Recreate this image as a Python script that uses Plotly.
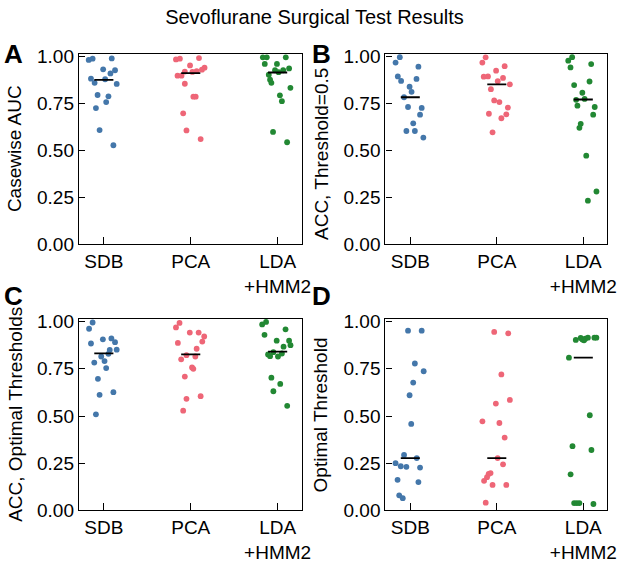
import plotly.graph_objects as go
import numpy as np

categories = ["SDB", "PCA", "LDA<br>+HMM2"]
colors = ["#4477AA", "#EE6677", "#228833"]
ytick_vals = [0.0, 0.25, 0.5, 0.75, 1.0]
ytick_text = ["0.00", "0.25", "0.50", "0.75", "1.00"]

# Panel A: Casewise AUC
a_sdb = [0.983, 0.990, 0.991, 0.933, 0.928, 0.911, 0.883, 0.880, 0.861, 0.855, 0.796, 0.789, 0.758, 0.726, 0.609, 0.528]
a_sdb_j = [-0.174, -0.129, 0.091, -0.008, 0.129, 0.076, -0.148, 0.015, -0.106, 0.148, -0.072, 0.053, 0.027, -0.091, -0.049, 0.110]
a_pca = [0.986, 0.990, 0.993, 0.954, 0.942, 0.931, 0.921, 0.923, 0.919, 0.899, 0.899, 0.856, 0.787, 0.787, 0.698, 0.607, 0.561]
a_pca_j = [-0.170, -0.125, 0.095, -0.008, 0.159, 0.129, -0.068, 0.068, 0.019, -0.152, -0.106, -0.068, 0.030, 0.057, -0.087, -0.049, 0.114]
a_lda = [0.997, 0.997, 0.997, 0.962, 0.938, 0.962, 0.928, 0.928, 0.918, 0.904, 0.878, 0.861, 0.834, 0.794, 0.763, 0.599, 0.544]
a_lda_j = [-0.170, -0.125, 0.094, -0.008, 0.132, -0.148, -0.030, 0.064, 0.011, -0.102, -0.087, -0.072, 0.147, 0.026, 0.049, -0.053, 0.109]
a_medians = [0.877, 0.913, 0.916]

# Panel B: ACC, Threshold=0.5
b_sdb = [0.998, 0.969, 0.947, 0.895, 0.882, 0.871, 0.840, 0.813, 0.784, 0.732, 0.727, 0.691, 0.645, 0.604, 0.604, 0.569]
b_sdb_j = [-0.121, -0.170, 0.094, -0.144, 0.072, -0.106, -0.008, 0.015, -0.072, -0.026, 0.132, 0.113, 0.034, -0.045, 0.053, 0.151]
b_pca = [0.997, 0.969, 0.950, 0.926, 0.894, 0.895, 0.887, 0.870, 0.853, 0.827, 0.767, 0.758, 0.729, 0.696, 0.693, 0.672, 0.597]
b_pca_j = [-0.129, -0.167, 0.091, -0.008, -0.151, -0.102, 0.072, 0.011, 0.151, -0.068, -0.030, 0.030, 0.128, -0.091, 0.110, 0.053, -0.049]
b_lda = [0.998, 0.979, 0.943, 0.961, 0.868, 0.849, 0.808, 0.770, 0.775, 0.739, 0.732, 0.691, 0.642, 0.621, 0.472, 0.281, 0.232]
b_lda_j = [-0.129, -0.174, -0.148, 0.091, 0.072, -0.106, -0.011, -0.083, 0.015, -0.068, 0.132, 0.114, -0.030, -0.045, 0.034, 0.152, 0.053]
b_medians = [0.784, 0.853, 0.772]

# Panel C: ACC, Optimal Thresholds
c_sdb = [0.995, 0.962, 0.884, 0.906, 0.911, 0.891, 0.851, 0.850, 0.829, 0.815, 0.791, 0.783, 0.754, 0.697, 0.612, 0.626, 0.509]
c_sdb_j = [-0.129, -0.170, -0.148, -0.011, 0.087, 0.129, 0.148, 0.068, 0.053, -0.030, 0.008, -0.110, 0.027, -0.068, -0.049, 0.110, -0.091]
c_pca = [0.993, 0.969, 0.942, 0.942, 0.921, 0.894, 0.887, 0.856, 0.815, 0.822, 0.800, 0.757, 0.750, 0.709, 0.591, 0.605, 0.528]
c_pca_j = [-0.129, -0.170, -0.011, 0.091, 0.155, 0.133, -0.148, 0.068, 0.053, -0.049, -0.110, 0.015, 0.030, -0.068, -0.049, 0.114, -0.087]
c_lda = [0.998, 0.985, 0.930, 0.959, 0.899, 0.899, 0.875, 0.867, 0.838, 0.826, 0.817, 0.815, 0.831, 0.703, 0.670, 0.631, 0.554]
c_lda_j = [-0.133, -0.178, -0.151, 0.091, -0.011, 0.132, 0.148, 0.068, -0.049, -0.110, -0.087, 0.004, 0.049, -0.072, 0.030, -0.049, 0.110]
c_medians = [0.832, 0.826, 0.841]

# Panel D: Optimal Threshold
d_sdb = [0.952, 0.952, 0.778, 0.737, 0.677, 0.610, 0.458, 0.294, 0.277, 0.250, 0.234, 0.231, 0.227, 0.162, 0.150, 0.080, 0.065]
d_sdb_j = [-0.026, 0.132, 0.053, 0.155, 0.034, -0.008, 0.011, -0.072, 0.075, -0.170, -0.110, -0.045, 0.113, -0.147, 0.094, -0.128, -0.087]
d_pca = [0.945, 0.938, 0.720, 0.585, 0.566, 0.472, 0.463, 0.386, 0.277, 0.244, 0.198, 0.193, 0.176, 0.157, 0.135, 0.135, 0.041]
d_pca_j = [-0.030, 0.132, 0.053, 0.151, -0.011, -0.166, 0.030, 0.091, 0.010, 0.072, -0.072, -0.094, -0.113, -0.147, -0.049, 0.110, -0.128]
d_lda = [0.809, 0.903, 0.913, 0.905, 0.901, 0.909, 0.915, 0.915, 0.915, 0.504, 0.340, 0.320, 0.191, 0.039, 0.039, 0.039, 0.034]
d_lda_j = [-0.166, -0.087, -0.030, -0.010, 0.008, 0.023, 0.053, 0.128, 0.151, 0.075, -0.125, 0.094, -0.147, -0.106, -0.075, -0.045, 0.117]
d_medians = [0.277, 0.277, 0.809]

panel_letters = ["A", "B", "C", "D"]
ylabels = ["Casewise AUC", "ACC, Threshold=0.5", "ACC, Optimal Thresholds", "Optimal Threshold"]

panels = [
    ([a_sdb, a_pca, a_lda], [a_sdb_j, a_pca_j, a_lda_j], a_medians),
    ([b_sdb, b_pca, b_lda], [b_sdb_j, b_pca_j, b_lda_j], b_medians),
    ([c_sdb, c_pca, c_lda], [c_sdb_j, c_pca_j, c_lda_j], c_medians),
    ([d_sdb, d_pca, d_lda], [d_sdb_j, d_pca_j, d_lda_j], d_medians),
]

W, H = 629, 565
FONT = "Liberation Sans, Arial, sans-serif"

# layout geometry (pixels)
xdoms_px = [(80, 306), (391, 616)]
ydoms_px = [(48.5, 245), (322, 520)]
letter_pos = [(13.5, 49), (326, 49), (13.5, 299), (326, 299)]
ylabel_pos = [(15.5, 146.5), (325.5, 152), (15.5, 421), (325.5, 421)]

fig = go.Figure()
annotations = []
half = 0.11

for p, (vals, jits, meds) in enumerate(panels):
    row, col = divmod(p, 2)
    ax = "" if p == 0 else str(p + 1)
    xa, ya = "x" + ax, "y" + ax
    for k in range(3):
        xs = [k + j for j in jits[k]]
        fig.add_trace(go.Scatter(
            x=xs, y=vals[k], mode="markers", xaxis=xa, yaxis=ya,
            marker=dict(size=5.8, color=colors[k], line=dict(width=0)),
            showlegend=False, hoverinfo="y"))
    for k in range(3):
        fig.add_trace(go.Scatter(
            x=[k - half, k + half], y=[meds[k], meds[k]], mode="lines",
            xaxis=xa, yaxis=ya, line=dict(color="black", width=1.8),
            showlegend=False, hoverinfo="skip"))
    x0, x1 = xdoms_px[col]
    y0, y1 = ydoms_px[row]
    xdom = [x0 / W, x1 / W]
    ydom = [1 - y1 / H, 1 - y0 / H]
    common = dict(showline=True, linecolor="black", linewidth=1.2, mirror=True,
                  ticks="inside", tickcolor="black", tickwidth=1.2,
                  showgrid=False, zeroline=False,
                  tickfont=dict(family=FONT, size=19, color="black"))
    fig.layout["xaxis" + ax] = dict(domain=xdom, range=[-0.2875, 2.276],
                                    tickmode="array", tickvals=[0, 1, 2], ticktext=categories,
                                    anchor=ya, ticklen=7, **common)
    fig.layout["yaxis" + ax] = dict(domain=ydom, range=[0, 1.015],
                                    tickmode="array", tickvals=ytick_vals, ticktext=ytick_text,
                                    anchor=xa, ticklen=6, **common)
    # panel letter
    lx, ly = letter_pos[p]
    annotations.append(dict(text="<b>" + panel_letters[p] + "</b>", x=lx / W, y=1 - ly / H,
                             xref="paper", yref="paper", showarrow=False,
                             xanchor="center", yanchor="middle",
                             font=dict(family=FONT, size=26, color="black")))
    # y label
    tx, ty = ylabel_pos[p]
    annotations.append(dict(text=ylabels[p], x=tx / W, y=1 - ty / H,
                            xref="paper", yref="paper", showarrow=False, textangle=-90,
                            xanchor="center", yanchor="middle",
                            font=dict(family=FONT, size=19, color="black")))

fig.update_layout(
    width=W, height=H,
    margin=dict(l=0, r=0, t=0, b=0),
    paper_bgcolor="white", plot_bgcolor="white",
    title=dict(text="Sevoflurane Surgical Test Results", x=0.5, xanchor="center",
               y=1 - 17 / H, yanchor="middle", yref="container",
               font=dict(family=FONT, size=20, color="black")),
    annotations=annotations,
)

fig.write_html("out.html",
               config={"displayModeBar": False},
               post_script="document.body.style.margin='0';document.body.style.padding='0';")
